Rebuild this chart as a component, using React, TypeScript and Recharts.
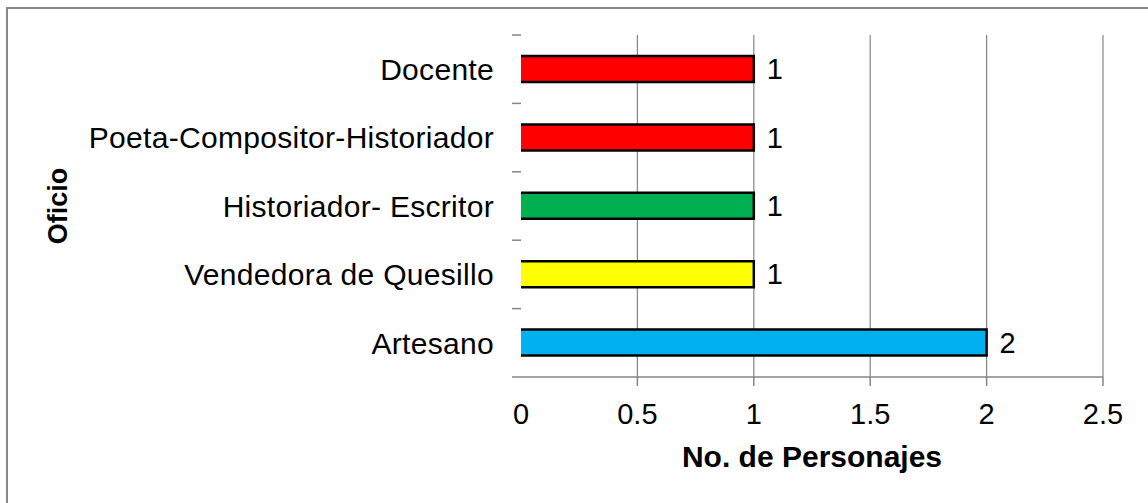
import React from 'react';
import { BarChart, Bar, XAxis, YAxis, Cell, LabelList, CartesianGrid, Label } from 'recharts';

const categories = ['Docente', 'Poeta-Compositor-Historiador', 'Historiador- Escritor', 'Vendedora de Quesillo', 'Artesano'];
const values = [1, 1, 1, 1, 2];
const barColors = ['#FF0000', '#FF0000', '#00B050', '#FFFF00', '#00B0F0'];
const xTicks = [0, 0.5, 1, 1.5, 2, 2.5];
const xAxisTitle = 'No. de Personajes';
const yAxisTitle = 'Oficio';

const data = categories.map((name, i) => ({ name, value: values[i], color: barColors[i] }));

const W = 1148;
const H = 503;
const MARGIN = { top: 35, right: 45, left: 0, bottom: 36 };
const X_AXIS_H = 90;
const Y_AXIS_W = 521;
const BAND = (H - MARGIN.top - MARGIN.bottom - X_AXIS_H) / categories.length;
const FONT = "'Liberation Sans', Arial, Helvetica, sans-serif";
const GRID = '#868686';
const TICK_FS = 29;
const CAT_FS = 30;
const Y_TICK_MARGIN = 27;
const X_TICK_SIZE = 9;
const X_TICK_MARGIN = 17;

const YTick = (props: any) => {
  const { x, y, payload, index } = props;
  const axisX = x + Y_TICK_MARGIN;
  return (
    <g>
      <line x1={axisX - 9} x2={axisX} y1={y - BAND / 2} y2={y - BAND / 2} stroke={GRID} strokeWidth={1.5} />
      {index === categories.length - 1 && (
        <line x1={axisX - 9} x2={axisX} y1={y + BAND / 2} y2={y + BAND / 2} stroke={GRID} strokeWidth={1.5} />
      )}
      <text
        x={x}
        y={y}
        dy="0.36em"
        textAnchor="end"
        fontSize={CAT_FS}
        letterSpacing={0.3}
        fontFamily={FONT}
        fill="#000"
      >
        {payload.value}
      </text>
    </g>
  );
};

const XTick = (props: any) => {
  const { x, y, payload } = props;
  const axisY = y - X_TICK_MARGIN - X_TICK_SIZE;
  return (
    <g>
      {payload.value !== 0 && (
        <line x1={x} x2={x} y1={axisY} y2={axisY + X_TICK_SIZE} stroke={GRID} strokeWidth={1.5} />
      )}
      <text x={x} y={y} dy="0.72em" textAnchor="middle" fontSize={TICK_FS} fontFamily={FONT} fill="#000">
        {payload.value}
      </text>
    </g>
  );
};

const BarShape = (props: any) => {
  const { x, y, width, height, fill } = props;
  return (
    <g>
      <rect x={x} y={y} width={width} height={height} fill={fill} />
      <path
        d={`M${x},${y}H${x + width}V${y + height}H${x}`}
        fill="none"
        stroke="#000"
        strokeWidth={2.5}
      />
    </g>
  );
};

const YTitle = (p: any) => {
  const vb = p.viewBox || {};
  const cy = (vb.y || 0) + (vb.height || 0) / 2;
  const cx = 57;
  return (
    <text
      x={cx}
      y={cy}
      dy="0.36em"
      textAnchor="middle"
      transform={`rotate(-90 ${cx} ${cy})`}
      fontSize={27}
      fontWeight="bold"
      fontFamily={FONT}
      fill="#000"
    >
      {yAxisTitle}
    </text>
  );
};

const gridGenerator = (props: any) => {
  const xAxis = props.xAxis || {};
  const sc: any = xAxis.scale;
  const fn = typeof sc === 'function' ? sc : sc && typeof sc.map === 'function' ? (v: number) => sc.map(v) : null;
  if (fn) {
    return xTicks.filter((t) => t !== 0).map((t) => fn(t));
  }
  const off = props.offset || {};
  return xTicks
    .filter((t) => t !== 0)
    .map((t) => off.left + (t / xTicks[xTicks.length - 1]) * off.width);
};

export default function App() {
  return (
    <div style={{ position: 'absolute', left: 0, top: 0, width: W, height: H, overflow: 'hidden', background: '#fff' }}>
      <div
        style={{
          position: 'absolute',
          left: 6,
          top: 7,
          width: 1400,
          height: 800,
          border: '2px solid #888888',
        }}
      />
      <div style={{ position: 'absolute', left: 0, top: 0 }}>
        <BarChart
          width={W}
          height={H}
          data={data}
          layout="vertical"
          margin={MARGIN}
          barSize={26}
          style={{ fontFamily: FONT }}
        >
          <CartesianGrid
            horizontal={false}
            vertical={true}
            stroke={GRID}
            strokeWidth={1.2}
            verticalCoordinatesGenerator={gridGenerator}
          />
          <XAxis
            type="number"
            domain={[0, 2.5]}
            ticks={xTicks}
            height={X_AXIS_H}
            axisLine={{ stroke: GRID, strokeWidth: 1.5 }}
            tickLine={false}
            tickSize={X_TICK_SIZE}
            tickMargin={X_TICK_MARGIN}
            tick={<XTick />}
            interval={0}
          >
            <Label
              value={xAxisTitle}
              position="insideBottom"
              offset={0}
              fontSize={30}
              fontWeight="bold"
              fontFamily={FONT}
              fill="#000"
            />
          </XAxis>
          <YAxis
            type="category"
            dataKey="name"
            width={Y_AXIS_W}
            axisLine={false}
            tickLine={false}
            tickSize={0}
            tickMargin={Y_TICK_MARGIN}
            tick={<YTick />}
            interval={0}
          >
            <Label content={<YTitle />} />
          </YAxis>
          <Bar dataKey="value" isAnimationActive={false} shape={<BarShape />}>
            {data.map((d, i) => (
              <Cell key={i} fill={d.color} />
            ))}
            <LabelList
              dataKey="value"
              position="right"
              offset={13}
              fill="#000"
              fontSize={TICK_FS}
              fontFamily={FONT}
            />
          </Bar>
        </BarChart>
      </div>
    </div>
  );
}
